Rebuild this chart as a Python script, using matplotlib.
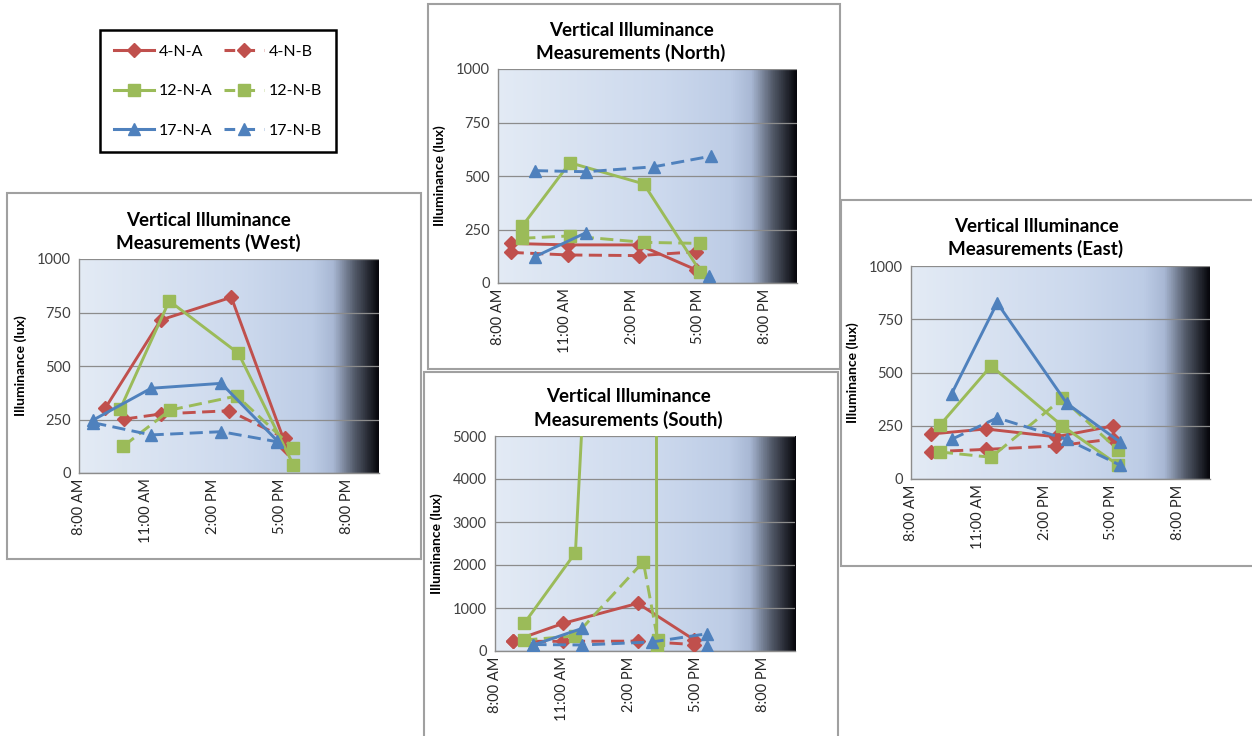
import numpy as np
import matplotlib
matplotlib.use("Agg")
import matplotlib.pyplot as plt
from matplotlib.patches import Rectangle
from matplotlib.lines import Line2D
from matplotlib.colors import LinearSegmentedColormap

plt.rcParams['font.family'] = ['Lato', 'DejaVu Sans']

W, H = 1252, 736
nan = np.nan

series_names = ['4-N-A', '4-N-B', '12-N-A', '12-N-B', '17-N-A', '17-N-B']
time_ticks = [8, 11, 14, 17, 20]
time_labels = ['8:00 AM', '11:00 AM', '2:00 PM', '5:00 PM', '8:00 PM']

# West
w_4a_t = [9.17, 11.66, 14.82, 17.31]
w_4a = [302, 715, 821, 115]
w_4b_t = [10.03, 11.68, 14.73, 17.24]
w_4b = [252, 276, 291, 162]
w_12a_t = [9.84, 12.04, 15.14, 17.6]
w_12a = [298, 804, 559, 37]
w_12b_t = [9.99, 12.08, 15.07, 17.6]
w_12b = [126, 294, 360, 115]
w_17a_t = [8.64, 11.23, 14.37, 16.87]
w_17a = [248, 396, 419, 151]
w_17b_t = [8.64, 11.23, 14.37, 16.87]
w_17b = [235, 178, 193, 146]

# North
n_4a_t = [8.57, 11.15, 14.33, 16.91]
n_4a = [185, 178, 178, 61]
n_4b_t = [8.57, 11.15, 14.33, 16.91]
n_4b = [143, 131, 128, 146]
n_12a_t = [9.09, 11.23, 14.55, 17.09]
n_12a = [266, 562, 463, 53]
n_12b_t = [9.09, 11.23, 14.55, 17.09]
n_12b = [209, 220, 190, 185]
n_17a_t = [9.66, 11.95, 15.0, 17.48]
n_17a = [123, 235, nan, 33]
n_17b_t = [9.66, 11.97, 15.0, 17.58]
n_17b = [525, 520, 543, 593]

# South
s_4a_t = [8.82, 11.06, 14.39, 16.93]
s_4a = [233, 644, 1109, 256]
s_4b_t = [8.82, 11.06, 14.39, 16.93]
s_4b = [225, 225, 230, 150]
s_12a_t = [9.31, 11.6, 15.15, 15.24]
s_12a = [644, 2287, 38000, 60]
s_12b_t = [9.31, 11.58, 14.64, 15.28]
s_12b = [256, 349, 2077, 265]
s_17a_t = [9.72, 11.91, 15.02, 17.48]
s_17a = [140, 527, nan, 116]
s_17b_t = [9.72, 11.91, 15.02, 17.48]
s_17b = [150, 140, 210, 400]

# East
e_4a_t = [8.88, 11.36, 14.5, 17.07]
e_4a = [211, 235, 198, 249]
e_4b_t = [8.88, 11.36, 14.5, 17.07]
e_4b = [128, 139, 155, 188]
e_12a_t = [9.3, 11.6, 14.8, 17.3]
e_12a = [253, 531, 249, 66]
e_12b_t = [9.3, 11.6, 14.8, 17.3]
e_12b = [127, 102, 378, 136]
e_17a_t = [9.82, 11.87, 15.0, 17.37]
e_17a = [399, 827, 355, 175]
e_17b_t = [9.82, 11.87, 15.0, 17.37]
e_17b = [186, 287, 186, 66]

dash = (0, (4.5, 2.2))
styles = {
    '4-N-A': dict(color='#c0504d', ls='-', marker='D', ms=7),
    '4-N-B': dict(color='#c0504d', ls=dash, marker='D', ms=7),
    '12-N-A': dict(color='#9bbb59', ls='-', marker='s', ms=8.5),
    '12-N-B': dict(color='#9bbb59', ls=dash, marker='s', ms=8.5),
    '17-N-A': dict(color='#4f81bd', ls='-', marker='^', ms=8.5),
    '17-N-B': dict(color='#4f81bd', ls=dash, marker='^', ms=8.5),
}

panels = [
    dict(name='West', box=(7, 193, 421, 559), area=(79, 259, 379, 473),
         title_xy=(208, 220), ymax=1000, ystep=250,
         data=[(w_4a_t, w_4a), (w_4b_t, w_4b), (w_12a_t, w_12a),
               (w_12b_t, w_12b), (w_17a_t, w_17a), (w_17b_t, w_17b)]),
    dict(name='North', box=(428, 4, 840, 369), area=(498, 69, 797, 283),
         title_xy=(631, 30), ymax=1000, ystep=250,
         data=[(n_4a_t, n_4a), (n_4b_t, n_4b), (n_12a_t, n_12a),
               (n_12b_t, n_12b), (n_17a_t, n_17a), (n_17b_t, n_17b)]),
    dict(name='South', box=(424, 372, 838, 745), area=(495, 436, 795, 651),
         title_xy=(628, 397), ymax=5000, ystep=1000,
         data=[(s_4a_t, s_4a), (s_4b_t, s_4b), (s_12a_t, s_12a),
               (s_12b_t, s_12b), (s_17a_t, s_17a), (s_17b_t, s_17b)]),
    dict(name='East', box=(841, 200, 1260, 566), area=(911, 266, 1210, 479),
         title_xy=(1036, 226), ymax=1000, ystep=250,
         data=[(e_4a_t, e_4a), (e_4b_t, e_4b), (e_12a_t, e_12a),
               (e_12b_t, e_12b), (e_17a_t, e_17a), (e_17b_t, e_17b)]),
]

bg_cmap = LinearSegmentedColormap.from_list('bg', [
    (0.00, (0.89, 0.92, 0.96)),
    (0.55, (0.80, 0.85, 0.93)),
    (0.78, (0.74, 0.80, 0.90)),
    (0.85, (0.66, 0.72, 0.83)),
    (0.92, (0.33, 0.36, 0.42)),
    (1.00, (0.03, 0.03, 0.05)),
])


def frac(x0, y0, x1, y1):
    return [x0 / W, 1 - y1 / H, (x1 - x0) / W, (y1 - y0) / H]


fig = plt.figure(figsize=(W / 100, H / 100), dpi=100)

for i, p in enumerate(panels):
    z = 1 + 3 * i
    x0, y0, x1, y1 = p['box']
    box = Rectangle((x0 / W, 1 - y1 / H), (x1 - x0) / W, (y1 - y0) / H,
                    transform=fig.transFigure, facecolor='white',
                    edgecolor='#a0a0a0', lw=1.5, zorder=z)
    fig.patches.append(box)
    ax = fig.add_axes(frac(*p['area']))
    ax.set_zorder(z + 1)
    grad = np.linspace(0, 1, 400).reshape(1, -1)
    ax.imshow(grad, extent=[0, 1, 0, 1], transform=ax.transAxes, aspect='auto',
              cmap=bg_cmap, zorder=0)
    for name, (t, v) in zip(series_names, p['data']):
        st = styles[name]
        ax.plot(t, v, color=st['color'], ls=st['ls'], lw=2.1, marker=st['marker'],
                ms=st['ms'], zorder=3)
    ax.set_xlim(8, 21.43)
    ax.set_ylim(0, p['ymax'])
    ax.set_xticks(time_ticks)
    ax.set_xticklabels(time_labels, rotation=90, fontsize=10.5, color='#262626')
    ax.set_yticks(np.arange(0, p['ymax'] + 1, p['ystep']))
    ax.tick_params(length=0, pad=4)
    ax.tick_params(axis='y', labelsize=10.5, labelcolor='#404040', pad=6)
    ax.yaxis.grid(True, color='#8c8c8c', lw=0.9)
    ax.set_axisbelow(False)
    for s in ['top', 'right']:
        ax.spines[s].set_visible(False)
    for s in ['left', 'bottom']:
        ax.spines[s].set_color('#8c8c8c')
        ax.spines[s].set_linewidth(1.0)
    ax.set_ylabel('Illuminance (lux)', fontsize=10, fontweight='bold', labelpad=7)
    tx, ty = p['title_xy']
    t1 = fig.text(tx / W, 1 - ty / H, 'Vertical Illuminance', ha='center', va='center',
                  fontsize=13.5, fontweight='bold')
    t2 = fig.text(tx / W, 1 - (ty + 23) / H, 'Measurements (%s)' % p['name'],
                  ha='center', va='center', fontsize=13.5, fontweight='bold')
    t1.set_zorder(z + 2)
    t2.set_zorder(z + 2)

# legend: matplotlib fills columns first
order = ['4-N-A', '12-N-A', '17-N-A', '4-N-B', '12-N-B', '17-N-B']
handles = []
for n in order:
    ls = '-' if styles[n]['ls'] == '-' else (0, (3.5, 3))
    handles.append(Line2D([], [], color=styles[n]['color'], ls=ls, lw=2.2,
                          marker=styles[n]['marker'], ms=styles[n]['ms']))
leg = fig.legend(handles, order, ncol=2, loc='upper left',
                 bbox_to_anchor=(100 / W, 1 - 30 / H), fontsize=11.5,
                 frameon=True, fancybox=False, edgecolor='black', framealpha=1,
                 handlelength=2.5, labelspacing=1.6, columnspacing=0.7,
                 borderpad=0.9, handletextpad=0.3, borderaxespad=0)
leg.get_frame().set_linewidth(1.8)

fig.savefig('out.png', dpi=100)
